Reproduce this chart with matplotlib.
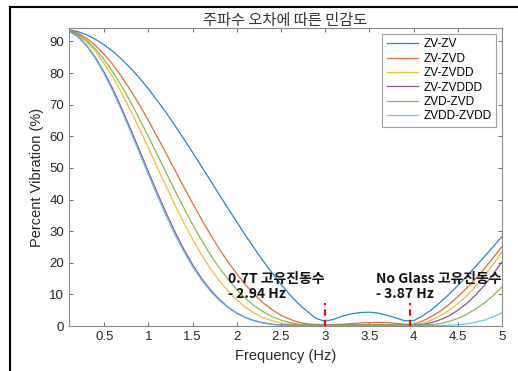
import matplotlib
matplotlib.use("Agg")
import matplotlib.pyplot as plt
from matplotlib.lines import Line2D

# frequency grid (first point repeated: curves start with a short vertical jump)
freq = [0.1, 0.1, 0.2, 0.3, 0.4, 0.5, 0.6, 0.7, 0.8, 0.9, 1.0,
        1.1, 1.2, 1.3, 1.4, 1.5, 1.6, 1.7, 1.8, 1.9, 2.0,
        2.1, 2.2, 2.3, 2.4, 2.5, 2.6, 2.7, 2.8, 2.9, 3.0,
        3.1, 3.2, 3.3, 3.4, 3.5, 3.6, 3.7, 3.8, 3.9, 4.0,
        4.1, 4.2, 4.3, 4.4, 4.5, 4.6, 4.7, 4.8, 4.9, 5.0]

zv_zv = [80.0, 93.7, 93.1, 92.1, 90.7, 88.9, 86.8, 84.3, 81.5, 78.4, 75.0,
         71.3, 67.5, 63.4, 59.2, 54.9, 50.5, 46.1, 41.6, 37.2, 32.9,
         28.6, 24.5, 20.5, 16.8, 13.2, 9.9, 7.0, 4.6, 2.4, 1.5,
         2.2, 3.2, 3.9, 4.3, 4.4, 4.1, 3.4, 2.6, 1.7, 1.7,
         3.2, 5.1, 7.5, 10.0, 12.8, 15.7, 18.8, 21.9, 25.1, 28.3]

zv_zvd = [84.0, 93.6, 92.6, 91.0, 88.7, 85.9, 82.6, 78.7, 74.4, 69.9, 65.0,
          59.8, 54.6, 49.3, 44.0, 38.8, 33.8, 29.0, 24.5, 20.3, 16.5,
          13.0, 10.0, 7.3, 5.2, 3.4, 2.2, 1.2, 0.7, 0.5, 0.5,
          0.5, 0.6, 0.8, 1.0, 1.1, 1.2, 1.1, 0.9, 0.6, 0.6,
          1.6, 3.0, 4.7, 6.8, 9.3, 12.0, 14.9, 18.1, 21.6, 25.1]

zv_zvdd = [83.0, 93.5, 92.1, 89.9, 86.8, 83.0, 78.6, 73.5, 68.0, 62.3, 56.3,
           50.2, 44.2, 38.3, 32.7, 27.4, 22.6, 18.2, 14.4, 11.1, 8.3,
           5.9, 4.1, 2.6, 1.7, 1.0, 0.6, 0.4, 0.4, 0.4, 0.4,
           0.4, 0.4, 0.4, 0.4, 0.5, 0.5, 0.5, 0.5, 0.4, 0.5,
           0.9, 1.9, 3.2, 4.9, 7.1, 9.5, 12.5, 15.8, 19.5, 23.5]

zv_zvddd = [82.0, 93.4, 91.6, 88.8, 84.9, 80.2, 74.8, 68.6, 62.1, 55.5, 48.8,
            42.1, 35.8, 29.8, 24.3, 19.4, 15.1, 11.5, 8.5, 6.0, 4.1,
            2.7, 1.7, 1.0, 0.6, 0.4, 0.3, 0.3, 0.3, 0.3, 0.3,
            0.3, 0.3, 0.3, 0.3, 0.3, 0.3, 0.3, 0.3, 0.3, 0.4,
            0.5, 1.1, 2.0, 3.2, 5.0, 7.1, 9.8, 12.8, 16.4, 20.3]

zvd_zvd = [85.0, 93.5, 92.3, 90.3, 87.6, 84.2, 80.2, 75.7, 70.7, 65.4, 59.9,
           54.2, 48.5, 42.8, 37.4, 32.1, 27.2, 22.6, 18.5, 14.8, 11.5,
           8.7, 6.4, 4.5, 3.0, 1.9, 1.1, 0.6, 0.4, 0.3, 0.3,
           0.3, 0.3, 0.3, 0.3, 0.3, 0.3, 0.3, 0.3, 0.3, 0.4,
           0.4, 0.5, 0.8, 1.5, 2.4, 3.7, 5.4, 7.3, 9.6, 12.4]

zvdd_zvdd = [87.0, 93.3, 91.5, 88.6, 84.6, 79.7, 74.1, 67.9, 61.3, 54.6, 47.8,
             41.2, 34.8, 28.9, 23.6, 18.8, 14.6, 11.1, 8.2, 5.9, 4.0,
             2.7, 1.7, 1.0, 0.5, 0.3, 0.2, 0.2, 0.2, 0.2, 0.2,
             0.2, 0.2, 0.2, 0.2, 0.2, 0.2, 0.2, 0.2, 0.2, 0.2,
             0.2, 0.2, 0.2, 0.3, 0.4, 0.7, 1.2, 1.9, 2.9, 4.2]

names = ['ZV-ZV', 'ZV-ZVD', 'ZV-ZVDD', 'ZV-ZVDDD', 'ZVD-ZVD', 'ZVDD-ZVDD']
series = [zv_zv, zv_zvd, zv_zvdd, zv_zvddd, zvd_zvd, zvdd_zvdd]
colors = ['#0072BD', '#D95319', '#EDB120', '#7E2F8E', '#77AC30', '#4DBEEE']

xticks = [0.5, 1, 1.5, 2, 2.5, 3, 3.5, 4, 4.5, 5]
xticklabels = ['0.5', '1', '1.5', '2', '2.5', '3', '3.5', '4', '4.5', '5']
yticks = [0, 10, 20, 30, 40, 50, 60, 70, 80, 90]

marks = [3.0, 3.96]      # red dashed markers
notes = ['0.7T 고유진동수\n- 2.94 Hz', 'No Glass 고유진동수\n- 3.87 Hz']
note_x = [1.9, 3.58]

plt.rcParams['font.family'] = ['Liberation Sans', 'Noto Sans CJK KR', 'DejaVu Sans']

fig = plt.figure(figsize=(5.18, 3.71), dpi=100)
ax = fig.add_axes([0.133, 0.121, 0.836, 0.804])

for s, n, c in zip(series, names, colors):
    ax.plot(freq, s, color=c, lw=0.9, label=n, alpha=0.85)

for m in marks:
    ax.plot([m, m], [0, 7.3], color='red', lw=1.5, ls=(0, (3, 2)))

for t, x in zip(notes, note_x):
    ax.text(x, 17.0, t, fontsize=10, fontweight='bold', va='top', ha='left',
            family=['Noto Sans CJK KR'], linespacing=1.1, color='#111111')

ax.set_xlim(0.1, 5)
ax.set_ylim(0, 94.3)
ax.set_xticks(xticks)
ax.set_xticklabels(xticklabels)
ax.set_yticks(yticks)
ax.tick_params(direction='in', top=True, right=True, labelsize=9.5,
               length=3, width=0.6, color='#555555', labelcolor='#262626')
for sp in ax.spines.values():
    sp.set_color('#888888')
    sp.set_linewidth(0.8)

ax.set_xlabel('Frequency (Hz)', fontsize=10.5, color='#262626', labelpad=4)
ax.set_ylabel('Percent Vibration (%)', fontsize=10.5, color='#262626', labelpad=4)
ax.set_title('주파수 오차에 따른 민감도', fontsize=11, color='#333333',
             family=['Noto Sans CJK KR'], pad=2)

leg = ax.legend(loc='upper right', fontsize=8.5, frameon=True, fancybox=False,
                handlelength=2.7, handletextpad=0.4, borderpad=0.4,
                labelspacing=0.2, borderaxespad=0.5)
leg.get_frame().set_edgecolor('#888888')
leg.get_frame().set_linewidth(0.8)

# screenshot frame lines (left and top)
fig.add_artist(Line2D([10 / 518, 10 / 518], [0, 1 - 7 / 371], color='black', lw=1.5,
                      transform=fig.transFigure))
fig.add_artist(Line2D([10 / 518, 1], [1 - 7 / 371, 1 - 7 / 371], color='black', lw=1.5,
                      transform=fig.transFigure))

fig.savefig('out.png', dpi=100)
